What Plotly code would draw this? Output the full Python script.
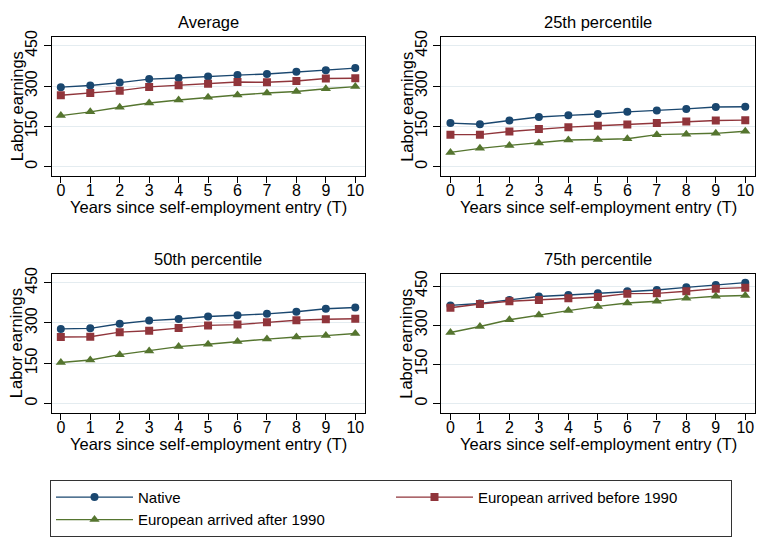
import plotly.graph_objects as go

years = list(range(11))
panels = ["Average", "25th percentile", "50th percentile", "75th percentile"]
series_names = ["Native", "European arrived before 1990", "European arrived after 1990"]

native = {
    "Average": [296, 302, 313, 326, 330, 336, 341, 345, 353, 359, 367],
    "25th percentile": [162, 158, 172, 185, 191, 196, 204, 209, 215, 222, 223],
    "50th percentile": [278, 280, 297, 309, 315, 324, 329, 334, 342, 353, 358],
    "75th percentile": [376, 383, 397, 410, 416, 422, 430, 435, 445, 454, 463],
}
before_1990 = {
    "Average": [266, 274, 283, 297, 303, 309, 315, 314, 319, 328, 329],
    "25th percentile": [119, 119, 131, 140, 147, 152, 157, 162, 168, 172, 173],
    "50th percentile": [248, 249, 266, 271, 281, 291, 294, 303, 310, 314, 316],
    "75th percentile": [367, 381, 392, 397, 403, 408, 421, 422, 430, 440, 444],
}
after_1990 = {
    "Average": [190, 204, 221, 237, 248, 258, 267, 274, 280, 290, 298],
    "25th percentile": [53, 68, 79, 88, 99, 101, 104, 119, 121, 124, 132],
    "50th percentile": [153, 162, 182, 196, 212, 221, 231, 240, 248, 253, 261],
    "75th percentile": [272, 295, 321, 339, 356, 372, 385, 392, 403, 411, 414],
}
y_ticks = [0, 150, 300, 450]

colors = ["#1a476f", "#90353b", "#55752f"]
symbols = ["circle", "square", "triangle-up"]
msizes = [8, 8, 9]
data_sets = [native, before_1990, after_1990]

W, H = 769, 544
x_doms = [[51.7 / W, 365 / W], [441.3 / W, 755 / W]]
y_doms = [[1 - 171.7 / H, 1 - 30 / H], [1 - 411.7 / H, 1 - 270 / H]]
y_ranges = [[-36.8, 484.3], [-36.8, 484.3], [-36.8, 484.3], [-37.8, 498]]

FONT = "Liberation Sans, Arial, sans-serif"
fig = go.Figure()
layout = dict(
    width=W, height=H,
    margin=dict(l=0, r=0, t=0, b=0),
    paper_bgcolor="white", plot_bgcolor="white",
    font=dict(family=FONT, color="black", size=15),
    showlegend=True,
    annotations=[],
)

for i, p in enumerate(panels):
    r, c = divmod(i, 2)
    ax = "" if i == 0 else str(i + 1)
    for k in range(3):
        fig.add_trace(go.Scatter(
            x=years, y=data_sets[k][p], mode="lines+markers",
            name=series_names[k], legendgroup=series_names[k],
            showlegend=(i == 0),
            line=dict(color=colors[k], width=1.4),
            marker=dict(color=colors[k], symbol=symbols[k], size=msizes[k]),
            xaxis="x" + ax, yaxis="y" + ax,
        ))
    layout["xaxis" + ax] = dict(
        domain=x_doms[c], anchor="y" + ax, range=[-0.31, 10.33],
        tickmode="array", tickvals=years, ticks="outside", ticklen=6,
        tickcolor="black", showline=True, linecolor="black", linewidth=1,
        mirror=True, showgrid=False, zeroline=False,
        tickfont=dict(size=16), ticklabelstandoff=-7, fixedrange=True,
    )
    layout["yaxis" + ax] = dict(
        domain=y_doms[r], anchor="x" + ax, range=y_ranges[i],
        tickmode="array", tickvals=y_ticks, ticks="outside", ticklen=7,
        tickcolor="black", showline=True, linecolor="black", linewidth=1,
        mirror=True, showgrid=True, gridcolor="#e4ecf0", gridwidth=1,
        zeroline=False, tickangle=-90, tickfont=dict(size=16), fixedrange=True,
    )
    xc = (x_doms[c][0] + x_doms[c][1]) / 2
    # panel title
    layout["annotations"].append(dict(
        text=p, x=xc, y=y_doms[r][1] + 15 / H, xref="paper", yref="paper",
        xanchor="center", yanchor="middle", showarrow=False,
        font=dict(size=16.5)))
    # x-axis title
    layout["annotations"].append(dict(
        text="Years since self-employment entry (T)", x=xc,
        y=y_doms[r][0] - 31 / H, xref="paper", yref="paper",
        xanchor="center", yanchor="middle", showarrow=False,
        font=dict(size=16.5)))
    # y-axis title
    layout["annotations"].append(dict(
        text="Labor earnings", x=x_doms[c][0] - 35 / W,
        y=(y_doms[r][0] + y_doms[r][1]) / 2, xref="paper", yref="paper",
        xanchor="center", yanchor="middle", textangle=-90, showarrow=False,
        font=dict(size=16.5)))

layout["legend"] = dict(
    orientation="h", x=50 / W, y=1 - 479 / H, xanchor="left", yanchor="top",
    bordercolor="#333333", borderwidth=1, bgcolor="white",
    entrywidth=248, entrywidthmode="pixels", itemwidth=77,
    font=dict(size=15), tracegroupgap=0, traceorder="normal",
)
fig.update_layout(**layout)
fig.write_html("out.html")
